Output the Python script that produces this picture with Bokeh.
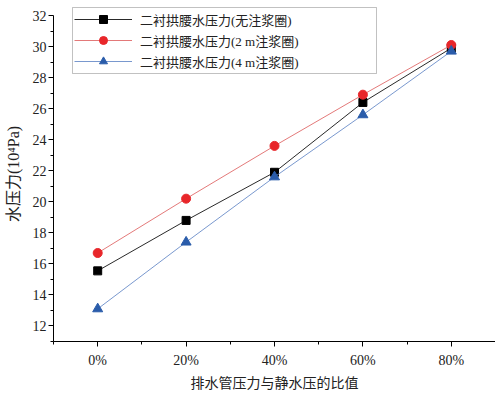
from bokeh.plotting import figure
from bokeh.models import FixedTicker, Legend, LegendItem, Range1d, BoxAnnotation
from bokeh.embed import file_html
from bokeh.resources import INLINE

ratios = [0, 20, 40, 60, 80]
ratio_labels = ["0%", "20%", "40%", "60%", "80%"]
s_none = [15.55, 18.8, 21.9, 26.4, 29.9]
s_2m = [16.7, 20.2, 23.6, 26.9, 30.1]
s_4m = [13.1, 17.4, 21.6, 25.6, 29.7]
names = ["二衬拱腰水压力(无注浆圈)", "二衬拱腰水压力(2 m注浆圈)", "二衬拱腰水压力(4 m注浆圈)"]
y_ticks = [12, 14, 16, 18, 20, 22, 24, 26, 28, 30, 32]

FONT = "'Liberation Serif', 'Noto Sans CJK SC'"

W, H = 495, 393
TOP, BOTTOM, LEFT = 6, 52, 53
FRAME_H = H - TOP - BOTTOM

p = figure(width=W, height=H, output_backend="svg", toolbar_location=None,
           x_range=Range1d(-10, 90), y_range=Range1d(11, 32.58))
p.min_border_left = LEFT
p.min_border_right = 0
p.min_border_top = TOP
p.min_border_bottom = BOTTOM
p.outline_line_color = None
p.xgrid.visible = False
p.ygrid.visible = False

series = [
    (s_none, "#111111", "#000000", "square", 8),
    (s_2m, "#e06a6a", "#e8262a", "circle", 9),
    (s_4m, "#6a8cc8", "#2a5caa", "triangle", 10),
]
items = []
for (vals, lc, mc, mk, sz), nm in zip(series, names):
    r1 = p.line(ratios, vals, line_color=lc, line_width=0.9)
    r2 = p.scatter(ratios, vals, marker=mk, size=sz, fill_color=mc, line_color=mc)
    items.append(LegendItem(label=nm, renderers=[r1, r2]))

LEG_H = 3 * 20 + 2 * 1 + 2 * 2
LEG_X, LEG_W = 19, 304
LEG_Y = FRAME_H - 1 - LEG_H
legend = Legend(items=items, location=(LEG_X, LEG_Y), orientation="vertical")
legend.label_text_font = FONT
legend.label_text_font_size = "13px"
legend.label_text_color = "#222222"
legend.glyph_width = 58
legend.glyph_height = 20
legend.label_height = 20
legend.spacing = 1
legend.padding = 2
legend.margin = 0
legend.border_line_alpha = 0
legend.background_fill_alpha = 0
legend.label_standoff = 8
p.add_layout(legend, "center")

box = BoxAnnotation(left=LEG_X, right=LEG_X + LEG_W, bottom=LEG_Y, top=LEG_Y + LEG_H,
                    left_units="screen", right_units="screen",
                    bottom_units="screen", top_units="screen",
                    fill_alpha=0, line_color="#333333", line_width=1,
                    level="annotation", editable=False)
p.add_layout(box)

xa = p.xaxis[0]
xa.ticker = FixedTicker(ticks=ratios, minor_ticks=[-10, 10, 30, 50, 70, 90])
xa.major_label_overrides = {r: l for r, l in zip(ratios, ratio_labels)}
xa.axis_label = "排水管压力与静水压的比值"
ya = p.yaxis[0]
ya.ticker = FixedTicker(ticks=y_ticks, minor_ticks=[11, 13, 15, 17, 19, 21, 23, 25, 27, 29, 31])
ya.bounds = (11, 32)
ya.axis_label = "水压力(10⁴Pa)"

for ax in (xa, ya):
    ax.axis_line_color = "black"
    ax.axis_line_width = 1
    ax.major_tick_line_color = "black"
    ax.minor_tick_line_color = "black"
    ax.major_tick_out = 5
    ax.major_tick_in = 0
    ax.minor_tick_out = 3
    ax.minor_tick_in = 0
    ax.major_label_text_font = FONT
    ax.major_label_text_font_size = "14px"
    ax.major_label_text_color = "#222222"
    ax.axis_label_text_font = FONT
    ax.axis_label_text_font_size = "14px"
    ax.axis_label_text_font_style = "normal"
    ax.axis_label_text_color = "#222222"

ya.axis_label_text_font_size = "16px"
xa.major_label_standoff = 6
xa.axis_label_standoff = 5
ya.major_label_standoff = 2
ya.axis_label_standoff = 8

open("out.html", "w").write(file_html(p, INLINE))
